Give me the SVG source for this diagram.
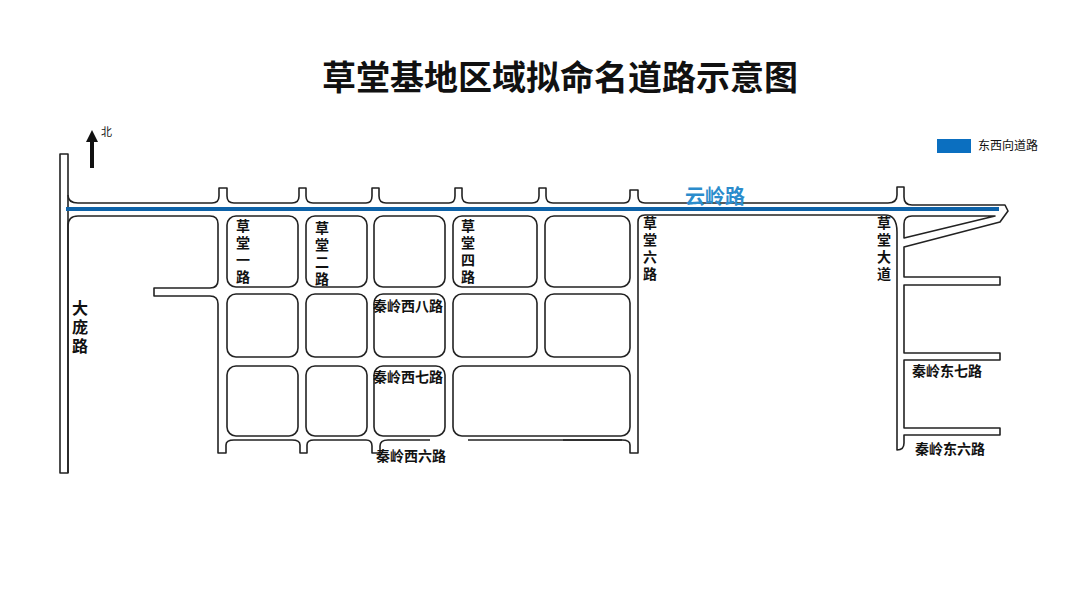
<svg xmlns="http://www.w3.org/2000/svg" width="1080" height="608" viewBox="0 0 1080 608">
<style>
.r{fill:none;stroke:#222;stroke-width:1.6;stroke-linejoin:round}
.t{font-family:"Noto Sans CJK SC",sans-serif;fill:#111}
.v{font-family:"Noto Sans CJK SC",sans-serif;fill:#111;font-size:14px;font-weight:bold;writing-mode:vertical-rl;letter-spacing:3px}
.h{font-family:"Noto Sans CJK SC",sans-serif;fill:#111;font-size:14px;font-weight:bold}
</style>
<rect width="1080" height="608" fill="#fff"/>
<text x="560" y="90" class="t" font-size="34" font-weight="bold" text-anchor="middle">草堂基地区域拟命名道路示意图</text>
<g id="north">
<path d="M92 168V140" stroke="#111" stroke-width="4"/>
<path d="M86 142L92 130L98 142Z" fill="#111"/>
<text x="101" y="136" class="t" font-size="11">北</text>
</g>
<g id="legend">
<rect x="937" y="139" width="34" height="14" fill="#0b6fc0"/>
<text x="978" y="150" class="t" font-size="12">东西向道路</text>
</g>
<g id="roads">
<path class="r" d="M60 473V154H68V473Z"/>
<path class="r" d="M68 195Q68 203 78 203H212Q219 203 219 196V188H227V196Q227 203 234 203H292Q299 203 299 196V188H306V196Q306 203 313 203H366Q372 203 372 196V188H379V196Q379 203 386 203H449Q455 203 455 196V188H462V196Q462 203 469 203H532Q539 203 539 196V188H546V196Q546 203 553 203H624Q630 203 630 196V190H638V196Q638 203 645 203H888Q897 203 897 195V187H904V197Q904 205 912 205H1005L1008 211L1000 222L904 247V277H1000V285H904V353H1000V360H904V428H1000V435H904V443Q904 450 897 450V232"/>
<path class="r" d="M897 232Q897 215 885 215H645Q638 215 638 222V453H630V445Q630 440 622 440H563"/>
<path class="r" d="M904 224V238L995 216H912Q904 216 904 224Z"/>
<path class="r" d="M68 473V226Q68 216 78 216H210Q218 216 218 224V280Q218 288 210 288H154V296H210Q218 296 218 304V453H226V445Q226 440 234 440H292Q300 440 300 445V453H307V445Q307 440 314 440H366Q372 440 372 446V453H380V446Q380 440 388 440H430"/>
<path class="r" d="M468 440H622"/>
<g id="blocks">
<rect class="r" x="227" y="216" width="71" height="71" rx="9"/>
<rect class="r" x="306" y="216" width="61" height="71" rx="9"/>
<rect class="r" x="374" y="216" width="71" height="71" rx="9"/>
<rect class="r" x="453" y="216" width="84" height="71" rx="9"/>
<rect class="r" x="545" y="216" width="85" height="71" rx="9"/>
<rect class="r" x="227" y="294" width="71" height="63" rx="9"/>
<rect class="r" x="306" y="294" width="61" height="63" rx="9"/>
<rect class="r" x="374" y="294" width="71" height="63" rx="9"/>
<rect class="r" x="453" y="294" width="84" height="63" rx="9"/>
<rect class="r" x="545" y="294" width="85" height="63" rx="9"/>
<rect class="r" x="227" y="366" width="71" height="70" rx="9"/>
<rect class="r" x="306" y="366" width="61" height="70" rx="9"/>
<rect class="r" x="374" y="366" width="71" height="70" rx="9"/>
<rect class="r" x="453" y="366" width="177" height="70" rx="9"/>
</g>
<path d="M66 209H999" stroke="#0d62a8" stroke-width="4"/>
</g>
<g id="labels">
<text x="685" y="204" class="t" font-size="20" font-weight="bold" style="fill:#2b8ccc">云岭路</text>
<text class="v" x="243" y="219">草堂一路</text>
<text class="v" x="322" y="221">草堂二路</text>
<text class="v" x="468" y="219">草堂四路</text>
<text class="v" x="650" y="216">草堂六路</text>
<text class="v" x="884" y="216">草堂大道</text>
<text class="v" x="80" y="300" style="font-size:16px">大庞路</text>
<text class="h" x="373" y="311">秦岭西八路</text>
<text class="h" x="373" y="382">秦岭西七路</text>
<text class="h" x="376" y="461">秦岭西六路</text>
<text class="h" x="912" y="376">秦岭东七路</text>
<text class="h" x="915" y="454">秦岭东六路</text>
</g>
</svg>
